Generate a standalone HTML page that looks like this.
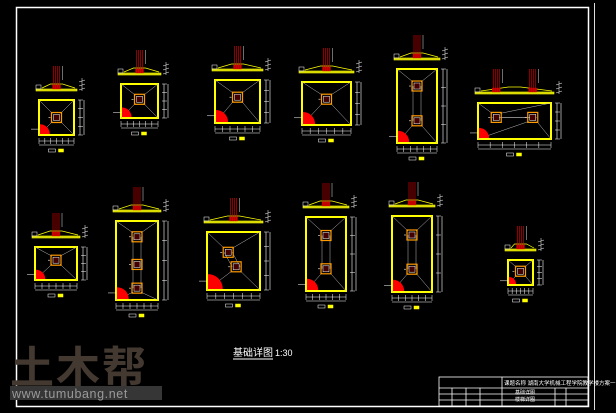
<!DOCTYPE html>
<html><head><meta charset="utf-8">
<style>
html,body{margin:0;padding:0;background:#000;width:616px;height:413px;overflow:hidden}
svg{display:block}
text{font-family:"Liberation Sans","Noto Sans CJK SC",sans-serif}
</style></head>
<body>
<svg id="s" width="616" height="413" viewBox="0 0 616 413" xmlns="http://www.w3.org/2000/svg">
<rect x="0" y="0" width="616" height="413" fill="#000"/>
<rect x="16.5" y="7.5" width="572" height="399" fill="none" stroke="#fff" stroke-width="1.5"/>
<line x1="594.5" y1="3" x2="594.5" y2="410" stroke="#ddd" stroke-width="1"/>
<g id="g"></g>
<text x="233" y="356" font-size="10" fill="#fff">基础详图</text>
<line x1="233" y1="359" x2="273" y2="359" stroke="#fff" stroke-width="1"/>
<text x="275" y="356" font-size="9" fill="#fff">1:30</text>
<g stroke="#fff" stroke-width="0.8" fill="none">
<rect x="439" y="377" width="149" height="29"/>
<line x1="439" y1="388" x2="588" y2="388"/>
<line x1="439" y1="394" x2="588" y2="394"/>
<line x1="439" y1="400" x2="588" y2="400"/>
<line x1="452" y1="388" x2="452" y2="406"/>
<line x1="466" y1="388" x2="466" y2="406"/>
<line x1="480" y1="388" x2="480" y2="406"/>
<line x1="502" y1="377" x2="502" y2="406"/>
<line x1="555" y1="388" x2="555" y2="406"/>
<line x1="566" y1="388" x2="566" y2="406"/>
</g>
<text x="504" y="385" font-size="5.5" fill="#fff">课题名称 湖南大学机械工程学院教学楼方案一</text>
<text x="515" y="394" font-size="5" fill="#fff">基础详图</text>
<text x="515" y="401" font-size="5" fill="#fff">楼梯详图</text>
<text x="10" y="383" font-size="44" font-weight="bold" fill="#433931" letter-spacing="2">土木帮</text>
<rect x="10" y="386" width="152" height="14" fill="#363636"/>
<text x="12" y="398" font-size="12.5" fill="#9a9a9a" letter-spacing="0.6">www.tumubang.net</text>
</svg>
<script>
var g=document.getElementById('g'),h='';
function L(a,b,c,d,col,w){h+='<line x1="'+a+'" y1="'+b+'" x2="'+c+'" y2="'+d+'" stroke="'+col+'" stroke-width="'+(w||0.6)+'"/>';}
function R(x,y,w,hh,col,sw,fill){h+='<rect x="'+x+'" y="'+y+'" width="'+w+'" height="'+hh+'" fill="'+(fill||'none')+'" stroke="'+col+'" stroke-width="'+(sw||0.6)+'"/>';}
function F(x1,y1,x2,y2,cols){
 var w=x2-x1,H=y2-y1;
 R(x1,y1,w,H,'#ff0',2);
 var cx=(x1+x2)/2;
 var ys=cols.map(function(c){return [x1+c[0]*w,y1+c[1]*H];});
 var c0=ys[0],cl=ys[ys.length-1];
 L(x1,y1,c0[0]-4,c0[1]-4,'#bbb',0.5);L(x2,y1,c0[0]+4,c0[1]-4,'#bbb',0.5);
 L(x1,y2,cl[0]-4,cl[1]+4,'#bbb',0.5);L(x2,y2,cl[0]+4,cl[1]+4,'#bbb',0.5);
 if(ys.length>1){L(c0[0]-4,c0[1],cl[0]-4,cl[1],'#bbb',0.5);L(c0[0]+4,c0[1],cl[0]+4,cl[1],'#bbb',0.5);}
 ys.forEach(function(p){R(p[0]-5,p[1]-5,10,10,'#f90',1.2);R(p[0]-3,p[1]-3,6,6,'#fff',0.5,'#400');L(p[0]-6,p[1],p[0]-8,p[1],'#fff');});
 var r=Math.min(w,H)*0.28;
 h+='<path d="M'+(x1+1)+' '+(y2-1)+' v'+(-r)+' a'+r+' '+r+' 0 0 1 '+r+' '+r+'z" fill="#f00"/>';
 L(x1-8,y2-r*0.6,x1,y2-r*0.6,'#fff',0.5);
 L(x2+6,y1,x2+6,y2,'#fff',0.6);for(var k=0;k<=4;k++)L(x2+4,y1+H*k/4,x2+9,y1+H*k/4,'#fff',0.5);
 L(x2+10,y1,x2+10,y2,'#fff',0.6);
 L(x1,y2+6,x2,y2+6,'#fff',0.6);for(k=0;k<=6;k++)L(x1+w*k/6,y2+3,x1+w*k/6,y2+9,'#fff',0.5);
 L(x1,y2+10,x2,y2+10,'#fff',0.6);
 R(cx-8,y2+14,7,3,'#fff',0.5);R(cx+2,y2+14,5,3,'#ff0',0.5,'#ff0');
 var sy=y1-10, sx1=x1-3, sx2=x2+3;
 R(sx1,sy-1,sx2-sx1,2,'#ff0',0.6,'#cc0');
 h+='<path d="M'+(sx1+6)+' '+(sy-2)+' L'+(cx-6)+' '+(sy-6)+' L'+(cx+6)+' '+(sy-6)+' L'+(sx2-2)+' '+(sy-2)+'" fill="none" stroke="#ff0" stroke-width="0.7"/>';
 R(sx1,sy-5,5,4,'#fff',0.5);
 var px=ys.length>1&&cols[1][1]===cols[0][1]?ys.map(function(p){return p[0];}):[cx];
 px.forEach(function(p){R(p-4,sy-5,8,4,'#f00',0.3,'#a00');[-3,-1,1,3].forEach(function(j){L(p+j,sy-1,p+j,sy-24,'#e00',0.6);});L(p+6,sy-24,p+6,sy-10,'#ddd',0.5);});
 for(k=0;k<3;k++)L(sx2+2,sy-8+k*4,sx2+8,sy-10+k*4,'#fff',0.5);
 L(sx2+5,sy-12,sx2+5,sy+1,'#fff',0.5);
}
F(39,100,74,135,[[.5,.5]]);
F(121,84,158,118,[[.5,.45]]);
F(215,80,260,123,[[.5,.4]]);
F(302,82,351,125,[[.5,.4]]);
F(397,69,437,143,[[.5,.23],[.5,.7]]);
F(478,103,551,139,[[.25,.4],[.75,.4]]);
F(35,247,77,280,[[.5,.4]]);
F(116,221,158,300,[[.5,.2],[.5,.55],[.5,.85]]);
F(207,232,260,290,[[.4,.35],[.55,.6]]);
F(306,217,346,291,[[.5,.25],[.5,.7]]);
F(392,216,432,292,[[.5,.25],[.5,.7]]);
F(508,260,533,285,[[.5,.45]]);
g.innerHTML=h;
</script>
</body></html>
